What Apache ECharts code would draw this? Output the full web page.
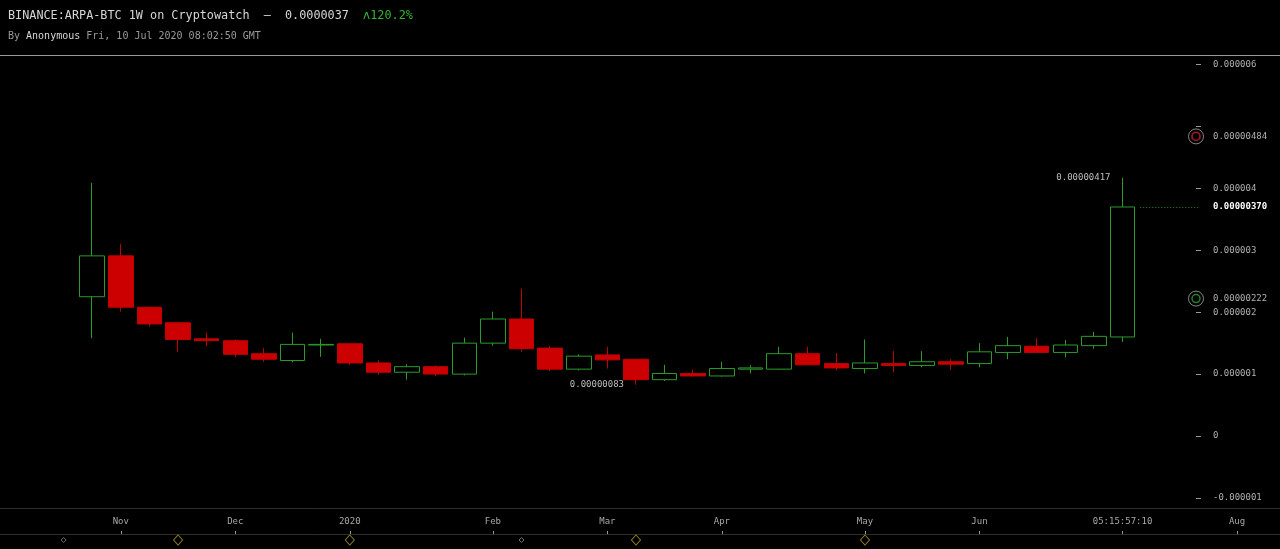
<!DOCTYPE html>
<html><head><meta charset="utf-8">
<script src="https://cdn.jsdelivr.net/npm/echarts@6/dist/echarts.min.js"></script>
<style>html,body{margin:0;padding:0;background:#000;}#c{width:1280px;height:549px;}</style>
</head><body><div id="c"></div>
<script>
// ---- data (weekly candles, index 0 = week of 31 Oct 2019) ----
const candleIndex = [0,1,2,3,4,5,6,7,8,9,10,11,12,13,14,15,16,17,18,19,20,21,22,23,24,25,26,27,28,29,30,31,32,33,34,35,36];
const opens  = [2.25e-6,2.91e-6,2.08e-6,1.83e-6,1.57e-6,1.54e-6,1.33e-6,1.22e-6,1.47e-6,1.49e-6,1.18e-6,1.03e-6,1.12e-6,1.00e-6,1.50e-6,1.89e-6,1.42e-6,1.08e-6,1.31e-6,1.24e-6,0.91e-6,1.01e-6,0.97e-6,1.08e-6,1.08e-6,1.33e-6,1.17e-6,1.09e-6,1.17e-6,1.14e-6,1.20e-6,1.17e-6,1.35e-6,1.45e-6,1.35e-6,1.46e-6,1.60e-6];
const highs  = [4.09e-6,3.10e-6,2.09e-6,1.83e-6,1.67e-6,1.56e-6,1.42e-6,1.67e-6,1.57e-6,1.49e-6,1.22e-6,1.16e-6,1.14e-6,1.59e-6,2.01e-6,2.38e-6,1.45e-6,1.32e-6,1.44e-6,1.24e-6,1.15e-6,1.07e-6,1.20e-6,1.14e-6,1.44e-6,1.44e-6,1.34e-6,1.56e-6,1.37e-6,1.37e-6,1.24e-6,1.50e-6,1.60e-6,1.58e-6,1.55e-6,1.68e-6,4.17e-6];
const lows   = [1.58e-6,2.01e-6,1.77e-6,1.36e-6,1.45e-6,1.27e-6,1.20e-6,1.19e-6,1.28e-6,1.15e-6,0.99e-6,0.91e-6,0.97e-6,0.98e-6,1.46e-6,1.36e-6,1.05e-6,1.06e-6,1.09e-6,0.83e-6,0.89e-6,0.96e-6,0.96e-6,1.01e-6,1.07e-6,1.15e-6,1.06e-6,1.01e-6,1.03e-6,1.11e-6,1.07e-6,1.11e-6,1.24e-6,1.35e-6,1.27e-6,1.41e-6,1.52e-6];
const closes = [2.91e-6,2.08e-6,1.81e-6,1.56e-6,1.54e-6,1.32e-6,1.24e-6,1.48e-6,1.48e-6,1.18e-6,1.03e-6,1.12e-6,1.00e-6,1.50e-6,1.89e-6,1.41e-6,1.08e-6,1.29e-6,1.23e-6,0.91e-6,1.01e-6,0.97e-6,1.09e-6,1.10e-6,1.33e-6,1.15e-6,1.10e-6,1.18e-6,1.14e-6,1.20e-6,1.16e-6,1.36e-6,1.46e-6,1.35e-6,1.47e-6,1.61e-6,3.70e-6];

// x-axis labels (placed at candle index)
const monthTickIndex = [1,5,9,14,18,22,27,31,36,40];
const monthTickLabels = ["Nov","Dec","2020","Feb","Mar","Apr","May","Jun","05:15:57:10","Aug"];

// y-axis ticks
const yTickValues = [-0.000001,0,0.000001,0.000002,0.000003,0.000004,0.000005,0.000006];
const yTickLabels = ["-0.000001","0","0.000001","0.000002","0.000003","0.000004","","0.000006"];

// price levels with circle markers
const alertHigh = 0.00000484;
const alertLow  = 0.00000222;

// event markers on the time strip
const eventIndex = [-1,3,9,15,19,27];
const eventMajor = [false,true,true,false,true,true];

// ---- chart ----
const lastIdx = candleIndex[candleIndex.length-1];
const lastClose = closes[closes.length-1];
const candleData = candleIndex.map((x,i)=>[x,opens[i],closes[i],lows[i],highs[i]]);
const Y_MIN = -1.163e-6, Y_MAX = 6.155e-6;
const X_MIN = -3.222, X_MAX = 41.502;
const MONO = '"DejaVu Sans Mono", monospace';

function near(a,b){return Math.abs(a-b)<1e-12;}

const chart = echarts.init(document.getElementById('c'), null, {renderer:'canvas'});
chart.setOption({
  backgroundColor:'#000',
  animation:false,
  graphic:[
    {type:'text', left:8, top:10, style:{
      text:'BINANCE:ARPA-BTC 1W on Cryptowatch  —  0.0000037  {g|ʌ120.2%}',
      font:'11.8px ' + MONO, fill:'#d6d6d6',
      rich:{g:{fill:'#35b535', font:'11.8px ' + MONO}}
    }},
    {type:'text', left:8, top:31, style:{
      text:'By {a|Anonymous} Fri, 10 Jul 2020 08:02:50 GMT',
      font:'10px ' + MONO, fill:'#9a9a9a',
      rich:{a:{fill:'#d8d8d8', font:'10px ' + MONO}}
    }},
    {type:'line', shape:{x1:0,y1:55.5,x2:1280,y2:55.5}, style:{stroke:'#9a9a9a', lineWidth:1}}
  ],
  grid:[
    {left:0, right:0, top:55, bottom:41, outerBoundsMode:'none'},
    {left:0, right:84, top:55, bottom:41, outerBoundsMode:'none'},
    {left:0, right:0, top:534, height:12, outerBoundsMode:'none'}
  ],
  xAxis:[
    {type:'value', gridIndex:0, min:X_MIN, max:X_MAX, position:'bottom',
     axisLine:{show:true, onZero:false, lineStyle:{color:'#2e2e2e'}}, axisTick:{show:false}, axisLabel:{show:false}, splitLine:{show:false}},
    {type:'value', gridIndex:1, min:0, max:1, show:false, axisLine:{onZero:false}},
    {type:'value', gridIndex:2, min:X_MIN, max:X_MAX, position:'top',
     axisLine:{show:true, onZero:false, lineStyle:{color:'#2e2e2e'}},
     axisTick:{show:true, length:3, customValues:monthTickIndex, lineStyle:{color:'#9a9a9a'}},
     axisLabel:{show:true, margin:8, customValues:monthTickIndex, color:'#a8a8a8', fontSize:9, fontFamily:MONO,
       formatter:function(v){const i=monthTickIndex.indexOf(Math.round(v));return i>=0?monthTickLabels[i]:'';}},
     splitLine:{show:false}}
  ],
  yAxis:[
    {type:'value', gridIndex:0, min:Y_MIN, max:Y_MAX, show:false, axisLine:{onZero:false}, splitLine:{show:false}},
    {type:'value', gridIndex:1, min:Y_MIN, max:Y_MAX, position:'right',
     axisLine:{show:false, onZero:false},
     axisTick:{show:true, length:5, customValues:yTickValues, lineStyle:{color:'#9a9a9a'}},
     axisLabel:{show:true, margin:17, color:'#b0b0b0', fontSize:9, fontFamily:MONO,
       customValues: yTickValues.filter((v,i)=>yTickLabels[i]!=='').concat([alertHigh,lastClose,alertLow]),
       formatter:function(v){
         if(near(v,lastClose)) return '{hl|'+lastClose.toFixed(8)+'}';
         if(near(v,alertHigh)) return alertHigh.toFixed(8);
         if(near(v,alertLow)) return alertLow.toFixed(8);
         for(let i=0;i<yTickValues.length;i++){ if(near(v,yTickValues[i])) return yTickLabels[i]; }
         return '';
       },
       rich:{hl:{color:'#ffffff', fontSize:9, fontFamily:MONO, fontWeight:'bold'}}
     },
     splitLine:{show:false}},
    {type:'value', gridIndex:2, min:0, max:1, show:false, axisLine:{onZero:false}}
  ],
  series:[
    {type:'candlestick', xAxisIndex:0, yAxisIndex:0, data:candleData,
     encode:{x:0, y:[1,2,3,4]},
     barWidth:25,
     itemStyle:{color:'#000', color0:'#cc0000', borderColor:'#2a9c2a', borderColor0:'#c20000', borderWidth:1},
     markPoint:{
       symbol:'circle', symbolSize:0, silent:true,
       label:{show:true, position:'left', distance:12, color:'#bdbdbd', fontSize:9, fontFamily:MONO,
         formatter:function(p){return Number(p.value).toFixed(8);}},
       data:[{type:'max', valueDim:'highest'},{type:'min', valueDim:'lowest'}]
     },
     markLine:{
       silent:true, symbol:['none','none'], label:{show:false},
       lineStyle:{color:'#2a8a2a', type:[1,2], width:1},
       data:[[{coord:[lastIdx+0.62,lastClose]},{coord:[lastIdx+2.7,lastClose]}]]
     }
    },
    {type:'scatter', xAxisIndex:1, yAxisIndex:1, silent:true, symbol:'circle', symbolSize:15,
     itemStyle:{color:'rgba(0,0,0,0)', borderColor:'#a8a8a8', borderWidth:1},
     data:[[1,alertHigh],[1,alertLow]]},
    {type:'scatter', xAxisIndex:1, yAxisIndex:1, silent:true, symbol:'circle', symbolSize:8,
     data:[
       {value:[1,alertHigh], itemStyle:{color:'rgba(0,0,0,0)', borderColor:'#b8202e', borderWidth:1.8}},
       {value:[1,alertLow], itemStyle:{color:'rgba(0,0,0,0)', borderColor:'#2aa02a', borderWidth:1.5}}
     ]},
    {type:'scatter', xAxisIndex:2, yAxisIndex:2, silent:true, symbol:'diamond', symbolSize:[9,10],
     itemStyle:{color:'#000', borderColor:'#b8a22a', borderWidth:1},
     data:eventIndex.filter((x,i)=>eventMajor[i]).map(x=>[x,0.5])},
    {type:'scatter', xAxisIndex:2, yAxisIndex:2, silent:true, symbol:'diamond', symbolSize:5,
     itemStyle:{color:'#000', borderColor:'#8a8a8a', borderWidth:1},
     data:eventIndex.filter((x,i)=>!eventMajor[i]).map(x=>[x,0.5])}
  ]
});
</script></body></html>
